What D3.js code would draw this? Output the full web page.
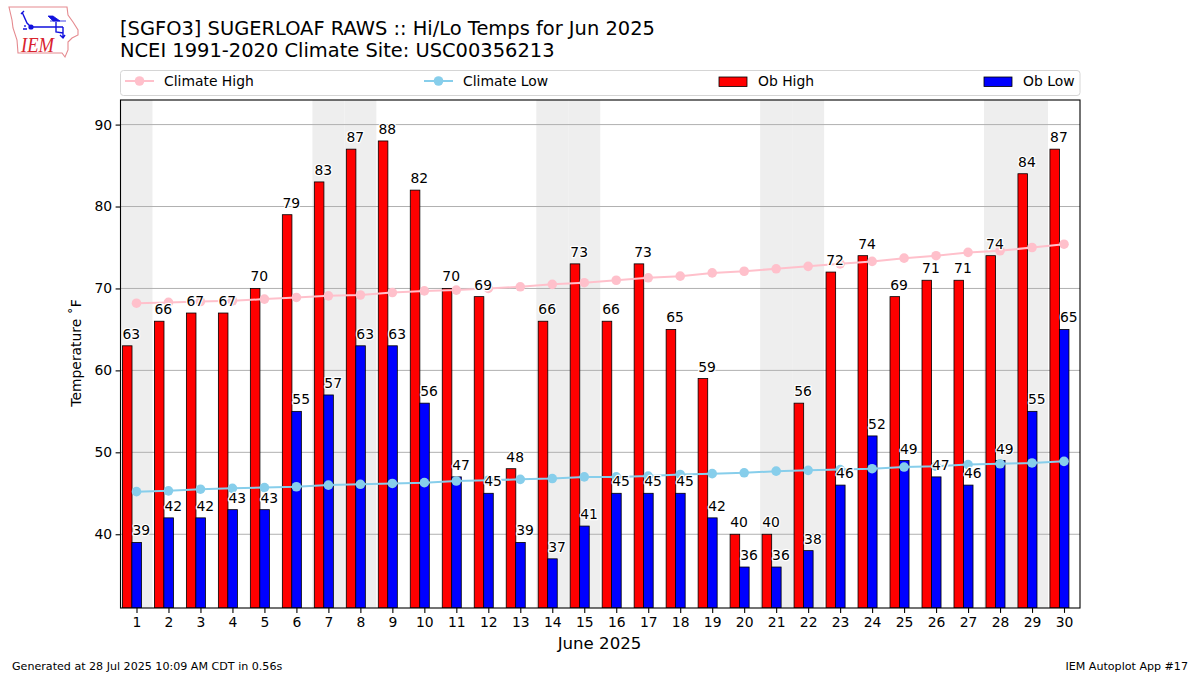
<!DOCTYPE html>
<html><head><meta charset="utf-8">
<script src="https://cdn.jsdelivr.net/npm/d3@7/dist/d3.min.js"></script>
<style>html,body{margin:0;padding:0;background:#fff}svg{display:block}text{font-family:"DejaVu Sans";fill:#000}</style>
</head><body><svg id="c" width="1200" height="675"></svg>
<script>
const days = d3.range(1, 31);
const obHigh = [63,66,67,67,70,79,83,87,88,82,70,69,48,66,73,66,73,65,59,40,40,56,72,74,69,71,71,74,84,87];
const obLow = [39,42,42,43,43,55,57,63,63,56,47,45,39,37,41,45,45,45,42,36,36,38,46,52,49,47,46,49,55,65];
const climateHigh = [68.2,68.3,68.4,68.5,68.7,68.9,69.1,69.2,69.5,69.7,69.8,70.0,70.2,70.5,70.7,71.0,71.3,71.5,71.9,72.1,72.4,72.7,73.0,73.3,73.7,74.0,74.4,74.6,75.0,75.4];
const climateLow = [45.2,45.3,45.5,45.6,45.7,45.8,46.0,46.1,46.2,46.3,46.5,46.6,46.7,46.8,47.0,47.0,47.1,47.3,47.4,47.5,47.7,47.8,47.9,48.0,48.2,48.3,48.5,48.6,48.7,48.9];
const weekendDays = [1,7,8,14,15,21,22,28,29];
const yTicks = [40,50,60,70,80,90];
const titleLines = ["[SGFO3] SUGERLOAF RAWS :: Hi/Lo Temps for Jun 2025","NCEI 1991-2020 Climate Site: USC00356213"];
const legendItems = ["Climate High","Climate Low","Ob High","Ob Low"];

const L=120.5,R=1080,T=100,B=608;
const x=d3.scaleLinear().domain([0.5,30.5]).range([L,R]);
const y=d3.scaleLinear().domain([31,93]).range([B,T]);
const svg=d3.select("#c");

// logo
const logo=svg.append("g").attr("fill","none");
logo.append("path").attr("d","M9,7 L67,7 L68,15 L73,22 L78,30 L78,35 L72,38 L68,42 L68,50 L65,57 L62,53 L18,53 L17,40 L13,28 L12,20 Z").attr("stroke","#e58a8f").attr("stroke-width",1.1);
const blue="#1111dd";
logo.append("path").attr("d","M31,27 L63,27 M56,22 L56,32 L63,33 M63,27 L63,38 M60,35 L63,38 L65,35 M22,12 L27,23 L31,27 M21,14 L24,11").attr("stroke",blue).attr("stroke-width",1.4);
logo.append("circle").attr("cx",31).attr("cy",27).attr("r",2.6).attr("fill",blue);
logo.append("path").attr("d","M48,16 L53,16 L60,21 L53,21 Z M50,21 L66,21").attr("fill",blue).attr("stroke",blue).attr("stroke-width",0.8);
logo.append("path").attr("d","M23,29 L27,29 M25,25 L25,27").attr("stroke",blue).attr("stroke-width",1.3);
svg.append("text").text("IEM").attr("x",21).attr("y",52).attr("textLength",33).attr("lengthAdjust","spacingAndGlyphs").style("font-family","Liberation Serif").style("font-style","italic").style("font-size","22px").style("fill","#d9232e");

// titles
titleLines.forEach((t,i)=>svg.append("text").text(t).attr("x",120).attr("y",35+i*22).style("font-size","19.45px"));

// weekend shading
svg.append("g").selectAll("rect").data(weekendDays).join("rect")
  .attr("x",d=>x(d-0.5)).attr("width",d=>x(d+0.5)-x(d-0.5)).attr("y",T).attr("height",B-T).attr("fill","#eeeeee");

// grid
svg.append("g").selectAll("line").data(yTicks).join("line")
  .attr("x1",L).attr("x2",R).attr("y1",d=>y(d)).attr("y2",d=>y(d)).attr("stroke","#b0b0b0").attr("stroke-width",1);

// bars
svg.append("defs").append("clipPath").attr("id","pl").append("rect").attr("x",L).attr("y",T).attr("width",R-L).attr("height",B-T);
const bw=0.3;
svg.append("g").attr("clip-path","url(#pl)").selectAll("rect").data(days).join("rect")
  .attr("x",d=>x(d-0.44)).attr("width",x(bw)-x(0)).attr("y",(d,i)=>y(obHigh[i])).attr("height",(d,i)=>B-y(obHigh[i]))
  .attr("fill","#ff0000").attr("stroke","#000").attr("stroke-width",0.8);
svg.append("g").attr("clip-path","url(#pl)").selectAll("rect").data(days).join("rect")
  .attr("x",d=>x(d-0.145)).attr("width",x(bw)-x(0)).attr("y",(d,i)=>y(obLow[i])).attr("height",(d,i)=>B-y(obLow[i]))
  .attr("fill","#0000ff").attr("stroke","#000").attr("stroke-width",0.8);

// climate lines
const ln=a=>d3.line().x((d,i)=>x(days[i])).y(d=>y(d))(a);
[[climateHigh,"#ffc0cb"],[climateLow,"#87ceeb"]].forEach(([a,c])=>{
  svg.append("path").attr("d",ln(a)).attr("fill","none").attr("stroke",c).attr("stroke-width",2);
  svg.append("g").selectAll("circle").data(a).join("circle").attr("cx",(d,i)=>x(days[i])).attr("cy",d=>y(d)).attr("r",4.8).attr("fill",c);
});

// value labels with white halo
const lab=(arr,off)=>svg.append("g").selectAll("text").data(arr).join("text").text(d=>d)
  .attr("x",(d,i)=>x(days[i]+off)).attr("y",d=>y(d)-7).attr("text-anchor","middle")
  .style("font-size","13.9px").style("paint-order","stroke").style("stroke","#fff").style("stroke-width","2.5px").style("stroke-linejoin","round");
lab(obHigh,-0.16); lab(obLow,0.15);

// frame
svg.append("rect").attr("x",L).attr("y",T).attr("width",R-L).attr("height",B-T).attr("fill","none").attr("stroke","#000").attr("stroke-width",1.1);

// axes
const ax=svg.append("g").attr("transform",`translate(0,${B})`).call(d3.axisBottom(x).tickValues(days).tickFormat(d3.format("d")).tickSize(4.9).tickPadding(4));
ax.select(".domain").remove();
ax.selectAll("text").style("font-size","13.9px");
const ay=svg.append("g").attr("transform",`translate(${L},0)`).call(d3.axisLeft(y).tickValues(yTicks).tickSize(4.9).tickPadding(3.5));
ay.select(".domain").remove();
ay.selectAll("text").style("font-size","13.9px");
svg.selectAll(".tick line").attr("stroke","#000").attr("stroke-width",1.1);
svg.selectAll(".tick text").style("fill","#000").style("font-family","DejaVu Sans");

svg.append("text").text("June 2025").attr("x",599.5).attr("y",649).attr("text-anchor","middle").style("font-size","16.6px");
svg.append("text").text("Temperature ˚F").attr("transform","translate(81,353) rotate(-90)").attr("text-anchor","middle").style("font-size","13.9px");

// legend
svg.append("rect").attr("x",120.5).attr("y",70.5).attr("width",959.5).attr("height",25).attr("rx",3).attr("fill","#fff").attr("stroke","#d5d5d5").attr("stroke-width",1);
const lx=[125,424,719,984], tx=[164,463,758,1023], cols=["#ffc0cb","#87ceeb","#ff0000","#0000ff"];
legendItems.forEach((t,i)=>{
  if(i<2){
    svg.append("line").attr("x1",lx[i]).attr("x2",lx[i]+29).attr("y1",81).attr("y2",81).attr("stroke",cols[i]).attr("stroke-width",2);
    svg.append("circle").attr("cx",lx[i]+14.5).attr("cy",81).attr("r",4.8).attr("fill",cols[i]);
  } else {
    svg.append("rect").attr("x",lx[i]).attr("y",77).attr("width",28).attr("height",9.5).attr("fill",cols[i]).attr("stroke","#000").attr("stroke-width",0.8);
  }
  svg.append("text").text(t).attr("x",tx[i]).attr("y",86).style("font-size","13.9px");
});

// footer
svg.append("text").text("Generated at 28 Jul 2025 10:09 AM CDT in 0.56s").attr("x",12).attr("y",670).style("font-size","11.1px");
svg.append("text").text("IEM Autoplot App #17").attr("x",1188).attr("y",670).attr("text-anchor","end").style("font-size","11.1px");
</script></body></html>
